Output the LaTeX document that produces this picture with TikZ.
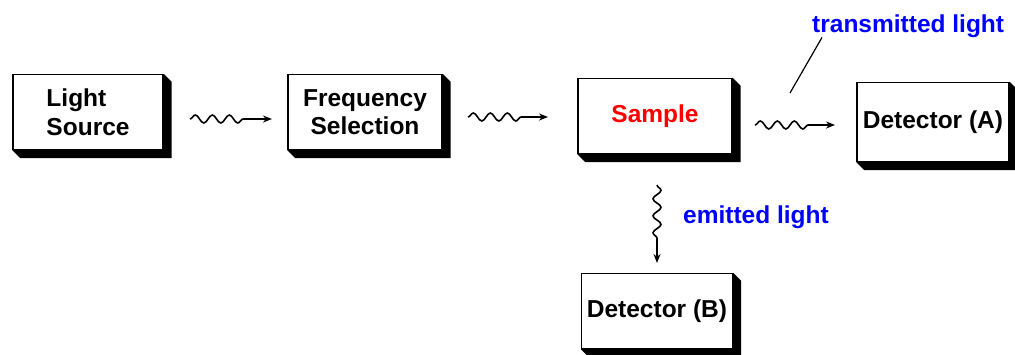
\documentclass[tikz,border=0pt]{standalone}
\usepackage{fontspec}
\setmainfont{Liberation Sans}
\usepackage{xcolor}
\usetikzlibrary{calc}
\usetikzlibrary{arrows.meta}
\usetikzlibrary{decorations.pathmorphing}

\tikzset{
	unit/.style={draw, fill=white, line width=1.3, minimum width=152, minimum height=75, inner sep=0, align=center, font=\fontsize{24.5}{28.5}\selectfont\bfseries},
	wave/.style={decorate, decoration={snake, amplitude=4, segment length=17, post length=21}, -{Stealth[length=9,width=7]}, line width=1.6},
	tag/.style={text=blue, font=\fontsize{24.5}{28}\selectfont\bfseries, inner sep=0}
}

\begin{document}
\begin{tikzpicture}[x=1pt, y=-1pt]
		\useasboundingbox (0,0) rectangle (1015,354);
		\node[unit, align=left, minimum width=150] (ls) at (88,112) {Light\\Source};
		\node[unit, minimum width=154] (fs) at (365,112) {Frequency\\Selection};
		\node[unit, text=red, minimum width=154] (smp) at (655,116) {Sample};
		\node[unit, minimum height=79] (dA) at (933,122) {Detector (A)};
		\node[unit, minimum width=151] (dB) at (657,311) {Detector (B)};
		
		\foreach \n in {ls,fs,smp,dA,dB}
			\fill (\n.north east) -- ++(8,8) -- ($(\n.south east)+(8,8)$) -- ($(\n.south west)+(8,8)$) -- (\n.south west) -- (\n.south east) -- cycle;
		
		\coordinate (w1a) at (190,119);
		\coordinate (w1b) at (272,119);
		\coordinate (w2a) at (468,117);
		\coordinate (w2b) at (548,117);
		\coordinate (w3a) at (755,125);
		\coordinate (w3b) at (835,125);
		\coordinate (w4a) at (657,185);
		\coordinate (w4b) at (657,263);
		\coordinate (tick) at (790,93);
		
		\draw[wave] (w1a) -- (w1b);
		\draw[wave] (w2a) -- (w2b);
		\draw[wave] (w3a) -- (w3b);
		\draw[wave] (w4a) -- (w4b);
		
		\node[tag, anchor=base west] (tl) at (812,32) {transmitted light};
		\node[tag, anchor=base west] (el) at (683,223) {emitted light};
		\draw[line width=1.2] (tick) -- ([xshift=10]tl.south west);
		
\end{tikzpicture}
\end{document}
